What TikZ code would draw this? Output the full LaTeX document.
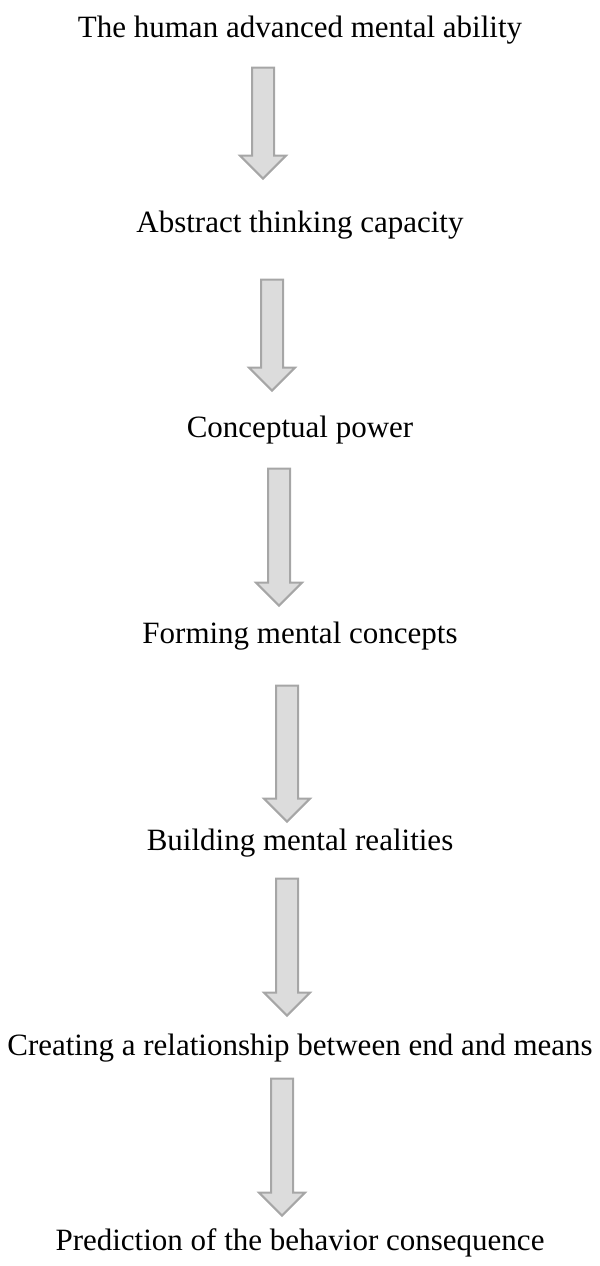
\documentclass[tikz,border=0pt]{standalone}
\usepackage{fontspec}
\setmainfont{Liberation Serif}
\usetikzlibrary{shapes.arrows}
\definecolor{arrowfill}{HTML}{DCDCDC}
\definecolor{arrowline}{HTML}{A6A6A6}
\tikzset{stage/.style={font=\fontsize{15.5}{18}\selectfont, anchor=base, inner sep=0pt},
downarrow/.style={single arrow, draw=arrowline, fill=arrowfill, line width=1pt,
shape border rotate=270, inner sep=5pt, minimum width=22.5pt, anchor=tip,
single arrow head extend=6pt, single arrow head indent=0pt, single arrow tip angle=90}}

\begin{document}
\begin{tikzpicture}[x=0.5pt, y=-0.5pt]
	\useasboundingbox (0,0) rectangle (600,1266);
	% chain of stages
	\node[stage] (t1) at (300,37) {The human advanced mental ability};
	\node[stage] (t2) at (300,232) {Abstract thinking capacity};
	\node[stage] (t3) at (300,437) {Conceptual power};
	\node[stage] (t4) at (300,643) {Forming mental concepts};
	\node[stage] (t5) at (300,850) {Building mental realities};
	\node[stage] (t6) at (300,1055) {Creating a relationship between end and means};
	\node[stage] (t7) at (300,1250) {Prediction of the behavior consequence};
	% block arrows between them
	\node[downarrow, minimum height=55.5pt] (a1) at (263,180) {};
	\node[downarrow, minimum height=55.5pt] (a2) at (272,392) {};
	\node[downarrow, minimum height=68.5pt] (a3) at (279,607) {};
	\node[downarrow, minimum height=68pt] (a4) at (287,823) {};
	\node[downarrow, minimum height=68.5pt] (a5) at (287,1017) {};
	\node[downarrow, minimum height=68.5pt] (a6) at (282,1217) {};
\end{tikzpicture}
\end{document}
